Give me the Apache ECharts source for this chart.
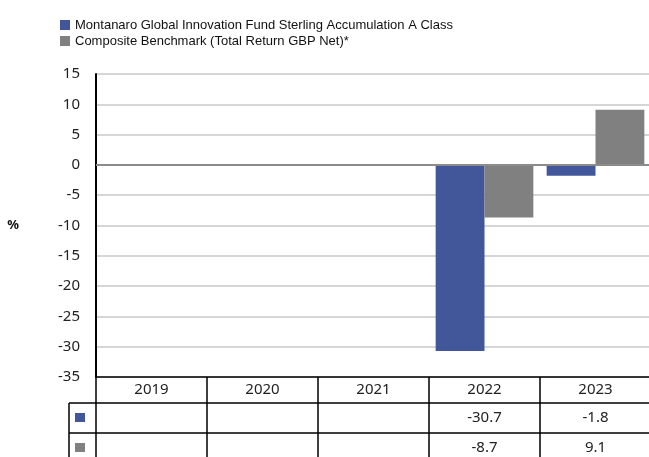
<!DOCTYPE html>
<html>
<head>
<meta charset="utf-8">
<script src="https://cdn.jsdelivr.net/npm/echarts@6/dist/echarts.min.js"></script>
<style>
  html, body { margin: 0; padding: 0; background: #fff; }
  #chart { width: 649px; height: 457px; }
</style>
</head>
<body>
<div id="chart"></div>
<script>
// 数据
const years = ['2019', '2020', '2021', '2022', '2023'];
const fundValues = [null, null, null, -30.7, -1.8];
const benchValues = [null, null, null, -8.7, 9.1];
const fundName = 'Montanaro Global Innovation Fund Sterling Accumulation A Class';
const benchName = 'Composite Benchmark (Total Return GBP Net)*';

const blue = '#42579A';
const grey = '#808080';
const tableFont = "'Noto Sans', sans-serif";

// 表格布局
const gridLeft = 96;
const gridBottom = 377;
const row1 = 26;   // 年份行
const row2 = 30;   // 数值行
const tableLeft = 69;

const fmt = arr => arr.map(v => (v == null ? '' : v.toFixed(1)));

const chartDom = document.getElementById('chart');
const myChart = echarts.init(chartDom);

const tableAxis = (data, offset, margin) => ({
    type: 'category',
    gridIndex: 0,
    position: 'bottom',
    offset: offset,
    data: data,
    axisLine: { show: true, onZero: false, lineStyle: { color: '#000', width: 1.5 } },
    axisTick: { show: false },
    splitLine: { show: false },
    axisLabel: { margin: margin, color: '#222', fontSize: 15, fontFamily: tableFont, interval: 0 }
});

const option = {
    animation: false,
    legend: {
        orient: 'vertical',
        left: 60,
        top: 18,
        padding: 0,
        itemWidth: 10,
        itemHeight: 10,
        itemGap: 2,
        icon: 'rect',
        itemStyle: { borderWidth: 0 },
        textStyle: { fontSize: 13, color: '#111', fontFamily: "'Liberation Sans', Arial, sans-serif", lineHeight: 14 },
        data: [fundName, benchName]
    },
    grid: {
        left: gridLeft,
        top: 74,
        right: -2,
        bottom: 457 - gridBottom,
        outerBoundsMode: 'none'
    },
    xAxis: [
        {
            type: 'category',
            data: years,
            position: 'bottom',
            axisLine: { show: true, onZero: false, lineStyle: { color: '#000', width: 1.5 } },
            axisTick: { show: true, length: 82, interval: 0, lineStyle: { color: '#000', width: 1.5 } },
            axisLabel: { margin: 5, color: '#222', fontSize: 15, fontFamily: tableFont, interval: 0 }
        },
        tableAxis(fmt(fundValues), row1, 7),
        tableAxis(fmt(benchValues), row1 + row2, 7)
    ],
    yAxis: {
        type: 'value',
        min: -35,
        max: 15,
        interval: 5,
        name: '%',
        nameLocation: 'middle',
        nameGap: 77,
        nameRotate: 0,
        nameTextStyle: { fontSize: 13, fontWeight: 'bold', color: '#111', fontFamily: tableFont, padding: [4, 0, 0, 0] },
        axisLine: { show: true, lineStyle: { color: '#000', width: 2 } },
        axisTick: { show: false },
        splitLine: { lineStyle: { color: '#c8c8c8', width: 1.5 } },
        axisLabel: { margin: 16, color: '#222', fontSize: 15, fontFamily: tableFont }
    },
    series: [
        {
            name: fundName,
            type: 'bar',
            data: fundValues,
            barGap: 0,
            barCategoryGap: '12%',
            itemStyle: { color: blue },
            markLine: {
                silent: true,
                symbol: 'none',
                label: { show: false },
                lineStyle: { color: '#8c8c8c', width: 2, type: 'solid' },
                data: [{ yAxis: 0 }]
            }
        },
        {
            name: benchName,
            type: 'bar',
            data: benchValues,
            barGap: 0,
            barCategoryGap: '12%',
            itemStyle: { color: grey }
        }
    ],
    graphic: [
        // 表格左侧图例列
        { type: 'line', shape: { x1: tableLeft, y1: gridBottom + row1, x2: gridLeft, y2: gridBottom + row1 }, style: { stroke: '#000', lineWidth: 1.5 } },
        { type: 'line', shape: { x1: tableLeft, y1: gridBottom + row1 + row2, x2: gridLeft, y2: gridBottom + row1 + row2 }, style: { stroke: '#000', lineWidth: 1.5 } },
        { type: 'line', shape: { x1: tableLeft, y1: gridBottom + row1, x2: tableLeft, y2: 460 }, style: { stroke: '#000', lineWidth: 1.5 } },
        { type: 'rect', shape: { x: tableLeft + 6, y: gridBottom + row1 + 10, width: 10, height: 9 }, style: { fill: blue } },
        { type: 'rect', shape: { x: tableLeft + 6, y: gridBottom + row1 + row2 + 10, width: 10, height: 9 }, style: { fill: grey } }
    ]
};

myChart.setOption(option);

window.addEventListener('resize', () => {
    myChart.resize();
});
</script>
</body>
</html>
